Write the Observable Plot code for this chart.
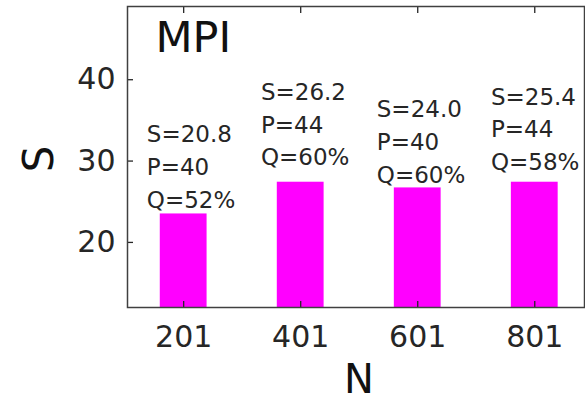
<!DOCTYPE html>
<html>
<head>
<meta charset="utf-8">
<script src="https://cdn.jsdelivr.net/npm/d3@7"></script>
<script src="https://cdn.jsdelivr.net/npm/@observablehq/plot@0.6"></script>
<style>
  html, body { margin: 0; padding: 0; background: #fff; }
  #chart svg { display: block; }
</style>
</head>
<body>
<div id="chart"></div>
<script>
// Data
const categories = [201, 401, 601, 801];
const barValues = [23.5, 27.4, 26.7, 27.4];
const sValues = ["20.8", "26.2", "24.0", "25.4"];
const pValues = [40, 44, 40, 44];
const qValues = ["52%", "60%", "60%", "58%"];
const labelX = [138, 333, 531, 726];
const labelY = [29.6, 34.8, 32.7, 34.2];
const yTicks = [20, 30, 40];
const xTicks = [201, 401, 601, 801];
const yDomain = [12, 49];
const xDomain = [105, 886];
const title = "MPI";
const xLabel = "N";
const yLabel = "S";

const bars = categories.map((n, i) => ({n, v: barValues[i]}));
const notes = categories.map((n, i) => ({
  x: labelX[i], y: labelY[i],
  text: `S=${sValues[i]}\nP=${pValues[i]}\nQ=${qValues[i]}`
}));

const ink = "#262626";
const halfBar = 40;

const chart = Plot.plot({
  width: 585,
  height: 401,
  marginLeft: 127,
  marginRight: 1,
  marginTop: 6,
  marginBottom: 94,
  style: {fontFamily: "DejaVu Sans", color: ink, background: "#fff"},
  x: {type: "linear", domain: xDomain},
  y: {domain: yDomain},
  marks: [
    Plot.rectY(bars, {x1: d => d.n - halfBar, x2: d => d.n + halfBar, y1: yDomain[0], y2: "v", fill: "#FF00FF"}),
    Plot.text(notes, {x: "x", y: "y", text: "text", textAnchor: "start", lineAnchor: "middle", lineHeight: 1.43, fontSize: 23, fill: ink}),
    Plot.text([title], {frameAnchor: "top-left", dx: 28, dy: 15, lineAnchor: "top", textAnchor: "start", fontSize: 43, fill: "#111"}),
    // inward ticks
    Plot.axisY(yTicks, {anchor: "left", tickSize: -6, tickFormat: () => "", stroke: ink, strokeWidth: 1.3, label: null}),
    Plot.axisX(xTicks, {anchor: "bottom", tickSize: -6, tickFormat: () => "", stroke: ink, strokeWidth: 1.3, label: null}),
    Plot.axisX(xTicks, {anchor: "top", tickSize: -6, tickFormat: () => "", stroke: ink, strokeWidth: 1.3, label: null}),
    // tick labels
    Plot.axisY(yTicks, {anchor: "left", tickSize: 0, tickPadding: 12, fontSize: 30, fill: ink, label: null}),
    Plot.axisX(xTicks, {anchor: "bottom", tickSize: 0, tickPadding: 18, fontSize: 30, fill: ink, label: null, tickFormat: d => String(d)}),
    Plot.frame({stroke: "#404040", strokeWidth: 1.5}),
    // axis titles
    Plot.text([xLabel], {frameAnchor: "bottom", dx: 3, dy: 73, lineAnchor: "middle", textAnchor: "middle", fontSize: 40, fill: "#111"}),
    Plot.text([yLabel], {frameAnchor: "left", dx: -88, dy: 2, rotate: -90, lineAnchor: "middle", textAnchor: "middle", fontSize: 42, fill: "#111"})
  ]
});
document.getElementById("chart").appendChild(chart);
</script>
</body>
</html>
